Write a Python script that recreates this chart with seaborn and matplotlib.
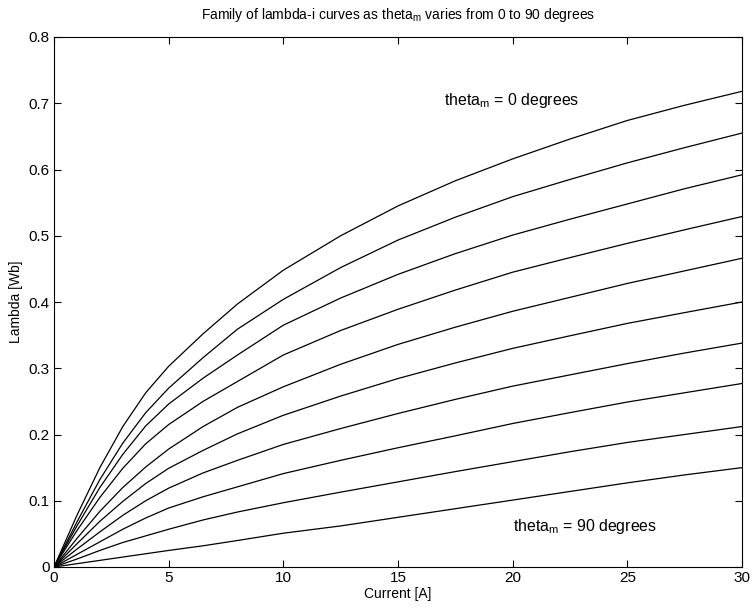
import numpy as np
import pandas as pd
import matplotlib
matplotlib.use("Agg")
import matplotlib.pyplot as plt
import seaborn as sns

# Current samples [A]
current = [0, 1, 2, 3, 4, 5, 6.5, 8, 10, 12.5, 15, 17.5, 20, 22.5, 25, 27.5, 30]

# Flux linkage [Wb] for each rotor angle (top curve = 0 deg, bottom = 90 deg)
theta_labels = ["0", "10", "20", "30", "40", "50", "60", "70", "80", "90"]
lam_0  = [0, .078, .150, .212, .263, .303, .352, .397, .448, .500, .545, .583, .616, .646, .674, .697, .718]
lam_10 = [0, .068, .132, .187, .233, .270, .316, .359, .404, .452, .4935, .528, .559, .585, .610, .633, .655]
lam_20 = [0, .062, .120, .170, .213, .246, .285, .320, .365, .406, .4417, .473, .501, .525, .548, .571, .592]
lam_30 = [0, .055, .105, .149, .186, .215, .250, .280, .320, .357, .389, .418, .445, .467, .4885, .509, .529]
lam_40 = [0, .043, .084, .120, .151, .178, .212, .241, .272, .306, .336, .362, .386, .407, .428, .447, .466]
lam_50 = [0, .035, .069, .099, .126, .149, .176, .201, .229, .258, .2845, .308, .330, .349, .3677, .384, .400]
lam_60 = [0, .027, .053, .078, .100, .119, .142, .161, .185, .209, .2317, .253, .273, .290, .307, .323, .338]
lam_70 = [0, .019, .038, .057, .074, .089, .106, .121, .141, .161, .180, .198, .2166, .233, .249, .263, .277]
lam_80 = [0, .012, .025, .037, .047, .057, .071, .083, .097, .113, .1285, .144, .159, .174, .188, .200, .212]
lam_90 = [0, .005, .010, .015, .020, .025, .032, .040, .051, .062, .075, .088, .101, .114, .127, .139, .150]

series = [lam_0, lam_10, lam_20, lam_30, lam_40, lam_50, lam_60, lam_70, lam_80, lam_90]

rows = []
for lab, vals in zip(theta_labels, series):
    for c, v in zip(current, vals):
        rows.append({"current": c, "lambda": v, "theta": lab})
df = pd.DataFrame(rows)

sns.set_style("ticks")
plt.rcParams["font.family"] = ["Liberation Sans", "DejaVu Sans"]
plt.rcParams["mathtext.fontset"] = "custom"
plt.rcParams["mathtext.rm"] = "Liberation Sans"
plt.rcParams["mathtext.it"] = "Liberation Sans"
plt.rcParams["text.color"] = "black"
plt.rcParams["axes.labelcolor"] = "black"
plt.rcParams["xtick.color"] = "black"
plt.rcParams["ytick.color"] = "black"

fig = plt.figure(figsize=(7.53, 6.13), dpi=100)
ax = fig.add_axes([54 / 753, 1 - 567 / 613, (742 - 54) / 753, (567 - 37) / 613])

sns.lineplot(data=df, x="current", y="lambda", hue="theta",
             palette=["black"] * len(theta_labels), legend=False,
             linewidth=0.9, ax=ax, sort=True)

ax.set_xlim(0, 30)
ax.set_ylim(0, 0.8)
ax.set_xticks([0, 5, 10, 15, 20, 25, 30])
ax.set_yticks([0, 0.1, 0.2, 0.3, 0.4, 0.5, 0.6, 0.7, 0.8])
ax.set_xticklabels(["0", "5", "10", "15", "20", "25", "30"])
ax.set_yticklabels(["0", "0.1", "0.2", "0.3", "0.4", "0.5", "0.6", "0.7", "0.8"])
ax.tick_params(direction="in", length=5, width=0.8, top=True, right=True,
               labelsize=11, colors="black", pad=3)
for s in ax.spines.values():
    s.set_visible(True)
    s.set_linewidth(0.8)
    s.set_color("black")

ax.set_xlabel("Current [A]", fontsize=10, labelpad=1, color="black")
ax.set_ylabel("Lambda [Wb]", fontsize=10, labelpad=4, color="black")
ax.set_title(r"Family of lambda-i curves as theta$_{\rm m}$ varies from 0 to 90 degrees",
             fontsize=10, pad=13, color="black")

ax.text(17.0, 0.697, r"theta$_{\rm m}$ = 0 degrees", fontsize=11.4,
        va="baseline", ha="left", color="black")
ax.text(20.0, 0.055, r"theta$_{\rm m}$ = 90 degrees", fontsize=11.4,
        va="baseline", ha="left", color="black")

fig.savefig("out.png", dpi=100)
